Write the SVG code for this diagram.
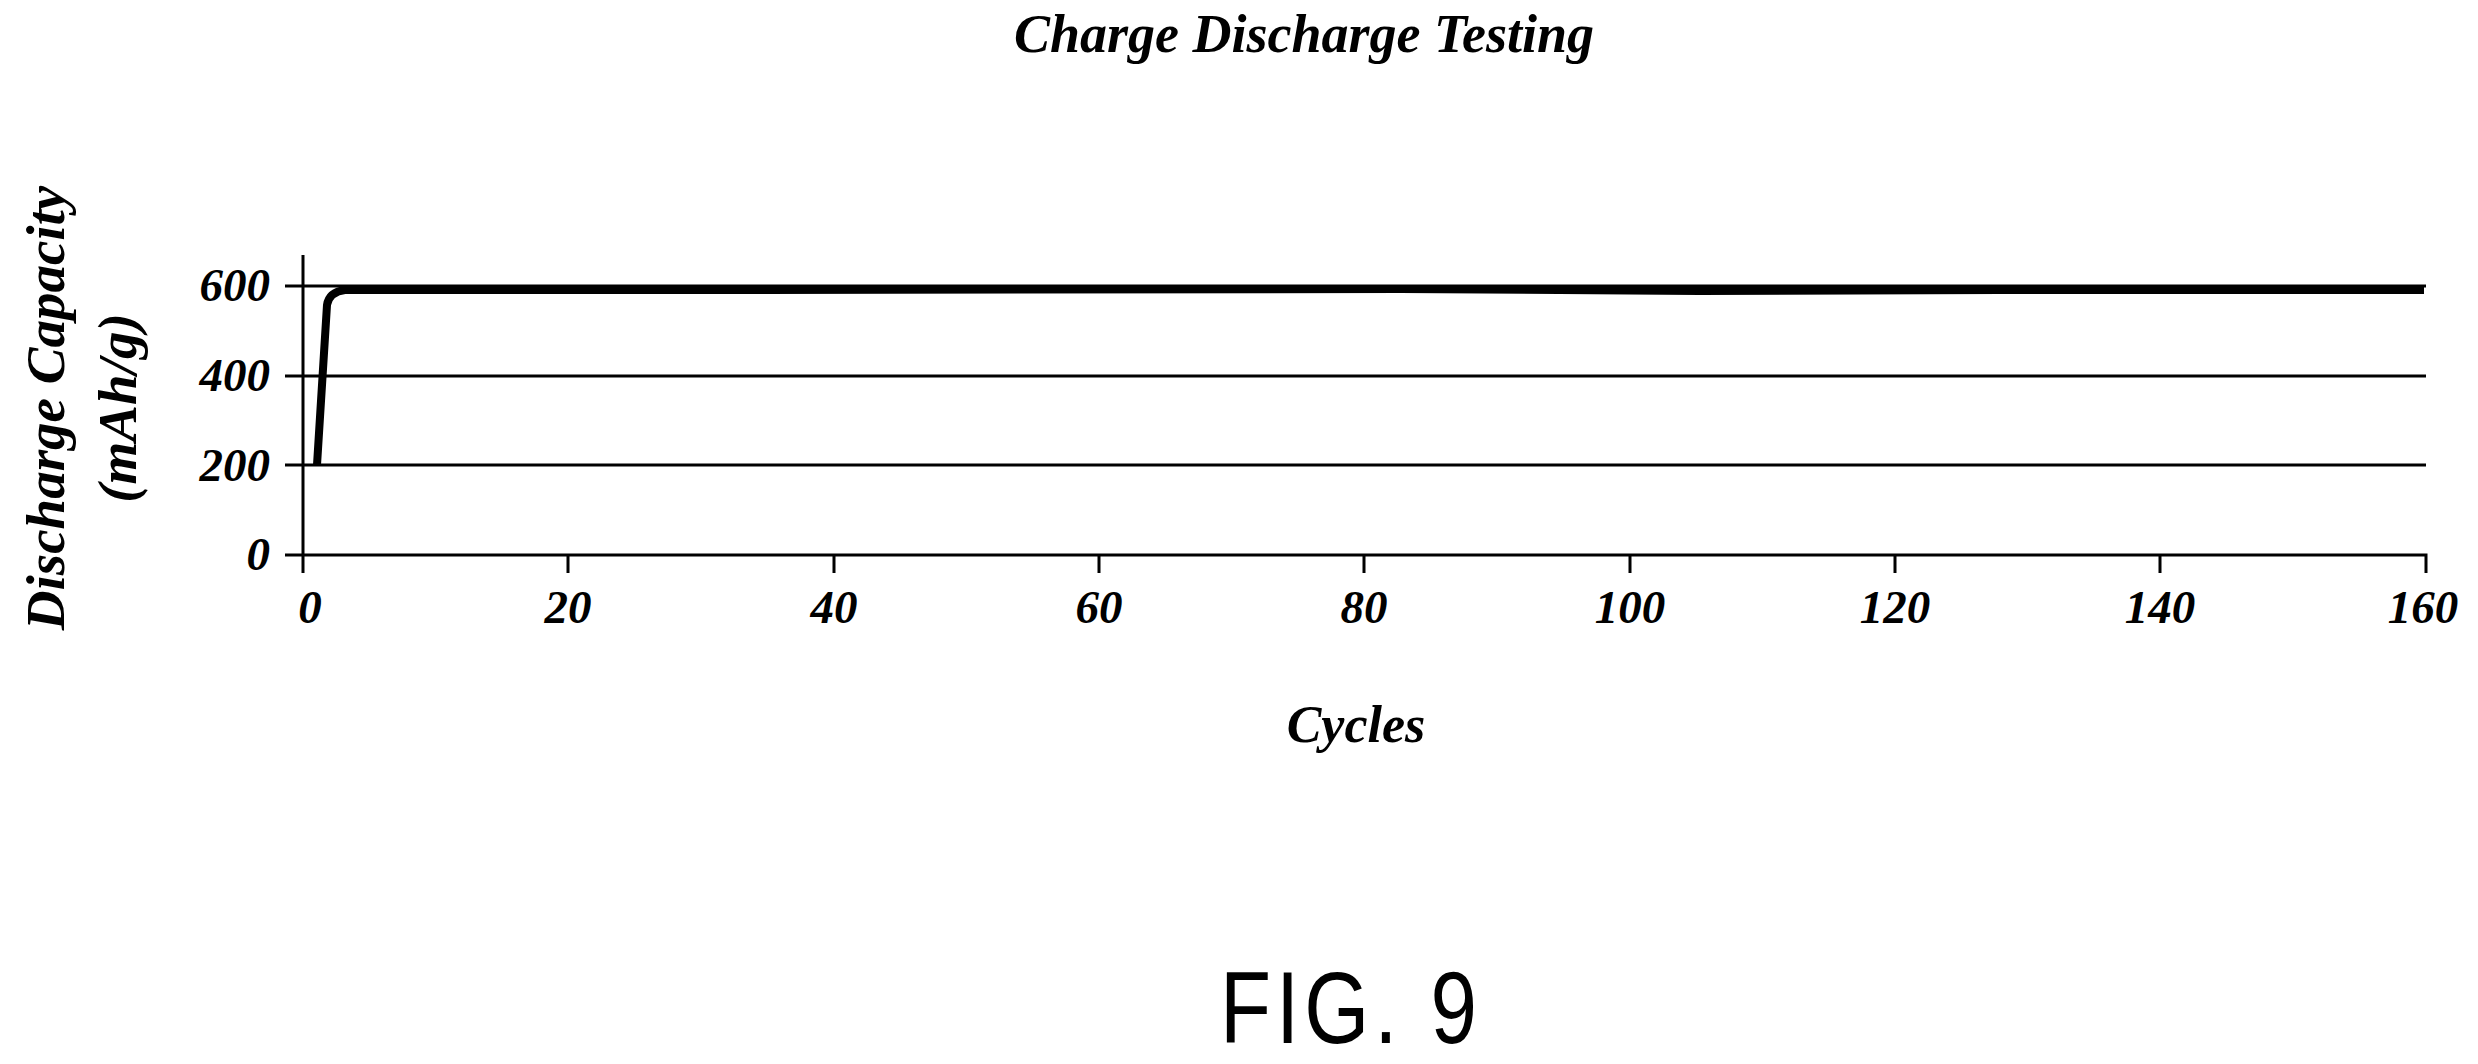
<svg xmlns="http://www.w3.org/2000/svg" width="2478" height="1064" viewBox="0 0 2478 1064">
<style>
.t{font-family:"Liberation Serif",serif;font-weight:bold;font-style:italic;fill:#000}
.n{font-size:47px}
.g{stroke:#000;stroke-width:3;fill:none}
</style>
<rect width="2478" height="1064" fill="#fff"/>
<text class="t" x="1304" y="52" font-size="54" text-anchor="middle">Charge Discharge Testing</text>
<g id="axes">
<path class="g" d="M303 255V573M285 286H2426M285 376H2426M285 465H2426M285 555H2426V573"/>
<path class="g" d="M568 555V573M834 555V573M1099 555V573M1364 555V573M1630 555V573M1895 555V573M2160 555V573"/>
</g>
<g id="ylabels" class="t n" text-anchor="end">
<text x="270" y="301">600</text><text x="270" y="391">400</text><text x="270" y="481">200</text><text x="270" y="570">0</text>
</g>
<g id="xlabels" class="t n" text-anchor="middle">
<text x="310" y="623">0</text><text x="568" y="623">20</text><text x="834" y="623">40</text><text x="1099" y="623">60</text><text x="1364" y="623">80</text><text x="1630" y="623">100</text><text x="1895" y="623">120</text><text x="2160" y="623">140</text><text x="2423" y="623">160</text>
</g>
<g id="data">
<path d="M317 465L327 305Q329 292 345 290L700 290L1400 289L1700 291L2000 290L2424 290" fill="none" stroke="#000" stroke-width="8" stroke-linejoin="round"/>
</g>
<text class="t" font-size="55" text-anchor="middle" transform="translate(64 408) rotate(-90)">Discharge Capacity</text>
<text class="t" font-size="55" text-anchor="middle" transform="translate(136 408) rotate(-90)">(mAh/g)</text>
<text class="t" x="1356" y="742" font-size="52" text-anchor="middle">Cycles</text>
<text x="1351" y="1043" font-family="Liberation Sans,sans-serif" font-size="102" text-anchor="middle" letter-spacing="6" transform="translate(1351 0) scale(0.82 1) translate(-1351 0)">FIG. 9</text>
</svg>
